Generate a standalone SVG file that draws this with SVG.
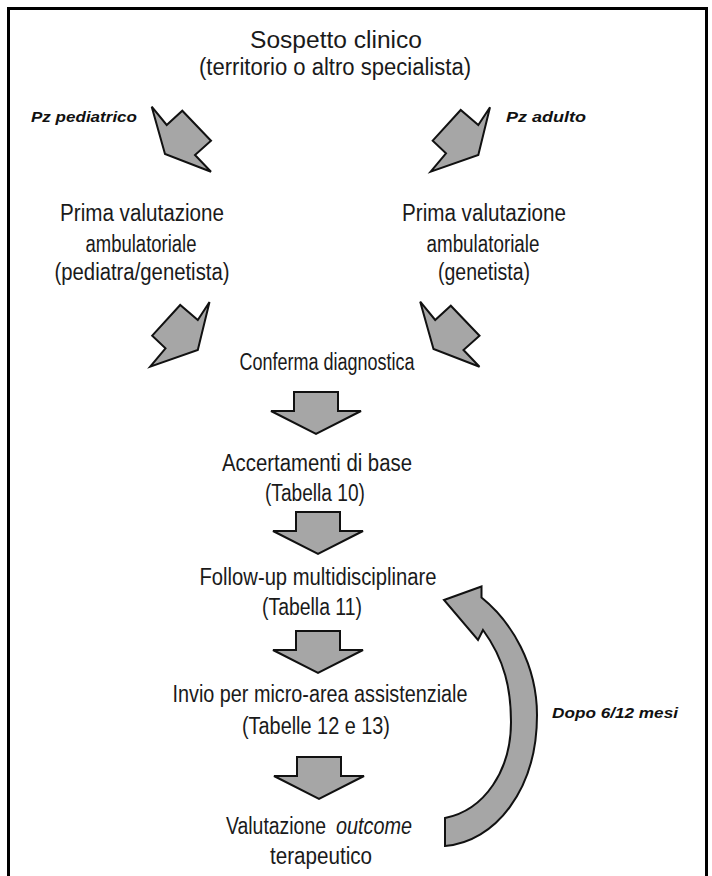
<svg xmlns="http://www.w3.org/2000/svg" width="712" height="876" viewBox="0 0 712 876">
<defs>
<style>
.t{font-family:"Liberation Sans",Arial,sans-serif;font-size:23px;fill:#1a1a1a;text-anchor:middle}
.l{font-family:"Liberation Sans",Arial,sans-serif;font-size:15px;font-weight:bold;font-style:italic;fill:#111;text-anchor:middle}
.a{fill:#a6a6a6;stroke:#111;stroke-width:2;stroke-linejoin:miter}
</style>
<path id="down" d="M-22,0 H22 V19 H45 L0,42 L-45,19 H-22 Z"/>
</defs>
<rect x="0" y="0" width="712" height="876" fill="#fff"/>
<rect id="frame" x="8.5" y="8.5" width="698" height="900" fill="none" stroke="#000" stroke-width="3"/>

<g id="n-sospetto">
<text class="t" x="336" y="48" textLength="172" lengthAdjust="spacingAndGlyphs">Sospetto clinico</text>
<text class="t" x="335" y="75" textLength="272" lengthAdjust="spacingAndGlyphs">(territorio o altro specialista)</text>
</g>
<g id="n-pz-ped"><text class="l" x="84" y="122" textLength="106" lengthAdjust="spacingAndGlyphs">Pz pediatrico</text></g>
<g id="n-pz-adu"><text class="l" x="546" y="122" textLength="80" lengthAdjust="spacingAndGlyphs">Pz adulto</text></g>
<g id="n-prima-ped">
<text class="t" x="142" y="221" textLength="164" lengthAdjust="spacingAndGlyphs">Prima valutazione</text>
<text class="t" x="141" y="252" textLength="111" lengthAdjust="spacingAndGlyphs">ambulatoriale</text>
<text class="t" x="142" y="280" textLength="175" lengthAdjust="spacingAndGlyphs">(pediatra/genetista)</text>
</g>
<g id="n-prima-adu">
<text class="t" x="484" y="221" textLength="164" lengthAdjust="spacingAndGlyphs">Prima valutazione</text>
<text class="t" x="483" y="252" textLength="113" lengthAdjust="spacingAndGlyphs">ambulatoriale</text>
<text class="t" x="484" y="280" textLength="92" lengthAdjust="spacingAndGlyphs">(genetista)</text>
</g>
<g id="n-conferma"><text class="t" x="327" y="370" textLength="175" lengthAdjust="spacingAndGlyphs">Conferma diagnostica</text></g>
<g id="n-accertamenti">
<text class="t" x="317" y="471" textLength="190" lengthAdjust="spacingAndGlyphs">Accertamenti di base</text>
<text class="t" x="315" y="501" textLength="100" lengthAdjust="spacingAndGlyphs">(Tabella 10)</text>
</g>
<g id="n-followup">
<text class="t" x="318" y="585" textLength="237" lengthAdjust="spacingAndGlyphs">Follow-up multidisciplinare</text>
<text class="t" x="312" y="615" textLength="100" lengthAdjust="spacingAndGlyphs">(Tabella 11)</text>
</g>
<g id="n-invio">
<text class="t" x="320" y="702" textLength="295" lengthAdjust="spacingAndGlyphs">Invio per micro-area assistenziale</text>
<text class="t" x="316" y="734" textLength="148" lengthAdjust="spacingAndGlyphs">(Tabelle 12 e 13)</text>
</g>
<g id="n-valutazione">
<text class="t" x="276" y="834" font-size="21" textLength="100" lengthAdjust="spacingAndGlyphs">Valutazione</text>
<text class="t" x="374" y="834" font-size="21" textLength="76" lengthAdjust="spacingAndGlyphs" font-style="italic">outcome</text>
<text class="t" x="321" y="864" textLength="102" lengthAdjust="spacingAndGlyphs">terapeutico</text>
</g>
<g id="n-dopo"><text class="l" x="615" y="718" textLength="126" lengthAdjust="spacingAndGlyphs">Dopo 6/12 mesi</text></g>

<g id="connectors">
<polygon class="a" points="151.7,106.7 166.7,125 182.3,110.7 211,140.7 195,155 211,171.7 165,154"/>
<polygon class="a" points="490,107.3 478.3,125 460.7,110 432.7,140.7 446,153.3 430.7,171.7 478.3,155"/>
<polygon class="a" points="209.5,302 197.8,320 180.2,305 152.2,335.7 165.5,348.3 150.2,366.7 197.8,350"/>
<polygon class="a" points="420.2,301.7 435.2,320 450.8,305.7 479.5,335.7 463.5,350 479.5,366.7 433.5,349"/>
<use href="#down" class="a" x="316" y="392"/>
<use href="#down" class="a" x="318" y="512"/>
<use href="#down" class="a" x="318" y="631"/>
<use href="#down" class="a" x="319" y="757"/>
<path class="a" d="M444,600 L481.5,586.5 L481.5,597.5 C512,622 537,665 537,715 C537,790 495,842 445,846 L445,818 C485,810 511,770 511,722 C511,690 505,660 483,630 L478,640 Z"/>
</g>
</svg>
